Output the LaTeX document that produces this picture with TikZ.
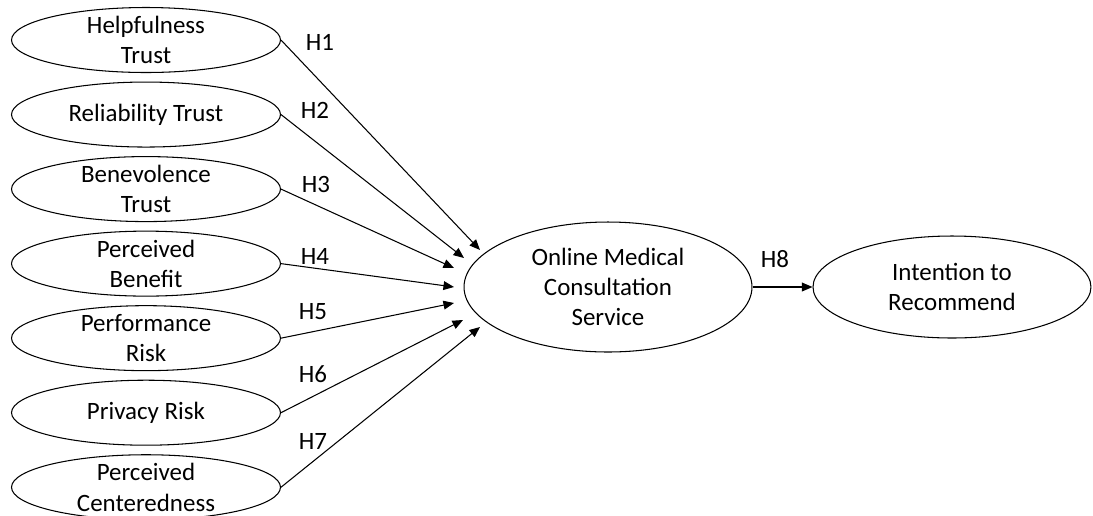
\documentclass[tikz,border=0pt]{standalone}
\usepackage{fontspec}
\setmainfont{Carlito}
\usetikzlibrary{shapes.geometric}
\usetikzlibrary{arrows.meta}
\usetikzlibrary{positioning}
\tikzset{%
  myedge/.style={-{Triangle[length=6pt, width=5pt]}, line width=0.6pt},
  mynode/.style={ellipse, draw=black, line width=0.6pt, inner xsep=0pt, inner ysep=-4pt,
    minimum width=5.38cm, minimum height=1.3cm, align=center,
    font=\fontsize{14.2}{17.3}\selectfont},
  mylabel/.style={font=\fontsize{14.2}{17.3}\selectfont}
}

\begin{document}
\begin{tikzpicture}[x=0.02cm, y=-0.02cm]
  \useasboundingbox (0,0) rectangle (1093,515);
  \node[mynode] (h1) at (146,40) {Helpfulness\\Trust};
  \node[mynode, below=0.17cm of h1] (h2) {Reliability Trust};
  \node[mynode, below=0.17cm of h2] (h3) {Benevolence\\Trust};
  \node[mynode, below=0.17cm of h3] (h4) {Perceived\\Benefit};
  \node[mynode, below=0.17cm of h4] (h5) {Performance\\Risk};
  \node[mynode, below=0.17cm of h5] (h6) {Privacy Risk};
  \node[mynode, below=0.17cm of h6] (h7) {Perceived\\Centeredness};
  \node[mynode, minimum width=5.76cm, minimum height=2.6cm] (oms) at (608,287) {Online Medical\\Consultation\\Service};
  \node[mynode, minimum width=5.56cm, minimum height=2.04cm, right=1.2cm of oms] (itr) {Intention to\\Recommend};
  % arrow ends in front of the central ellipse
  \coordinate (t1) at (480,250);
  \coordinate (t2) at (464,258);
  \coordinate (t3) at (454,268);
  \coordinate (t4) at (454,287);
  \coordinate (t5) at (454,303);
  \coordinate (t6) at (463,320);
  \coordinate (t7) at (480,327);
  \draw [myedge] (h1.east) -- (t1);
  \draw [myedge] (h2.east) -- (t2);
  \draw [myedge] (h3.east) -- (t3);
  \draw [myedge] (h4.east) -- (t4);
  \draw [myedge] (h5.east) -- (t5);
  \draw [myedge] (h6.east) -- (t6);
  \draw [myedge] (h7.east) -- (t7);
  \draw [myedge] (oms.east) -- (itr.west);
  \node[mylabel] (l1) at (320,42) {H1};
  \node[mylabel] (l2) at (315,110) {H2};
  \node[mylabel] (l3) at (316,184) {H3};
  \node[mylabel] (l4) at (315,256) {H4};
  \node[mylabel] (l5) at (313,312) {H5};
  \node[mylabel] (l6) at (313,374) {H6};
  \node[mylabel] (l7) at (313,441) {H7};
  \node[mylabel] (l8) at (775,259) {H8};
\end{tikzpicture}
\end{document}
